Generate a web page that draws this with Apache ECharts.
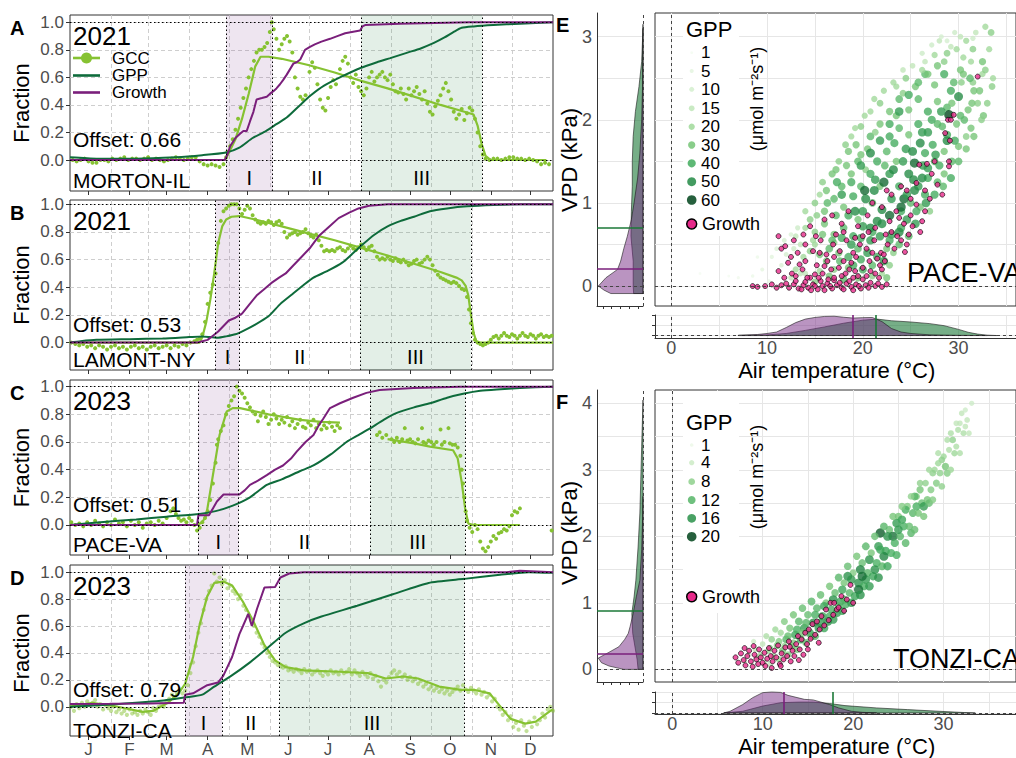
<!DOCTYPE html>
<html>
<head>
<meta charset="utf-8">
<script src="https://cdn.jsdelivr.net/npm/echarts@6/dist/echarts.min.js"></script>
<style>
html,body{margin:0;padding:0;background:#fff;}
#chart{width:1016px;height:758px;}
</style>
</head>
<body>
<div id="chart"></div>
<script>
// ---------- time-series panels (A-D): day of year 0..365 ----------
const MONTH_STARTS = [31, 59, 90, 120, 151, 181, 212, 243, 273, 304, 334];
const MONTH_MIDS = [14, 45, 73, 104, 134, 165, 195, 226, 257, 287, 318, 348];
const MONTH_LETTERS = ['J', 'F', 'M', 'A', 'M', 'J', 'J', 'A', 'S', 'O', 'N', 'D'];
const FRACTION_TICKS = [0, 0.2, 0.4, 0.6, 0.8, 1.0];

const SITES = ['MORTON-IL', 'LAMONT-NY', 'PACE-VA', 'TONZI-CA'];
const YEARS = ['2021', '2021', '2023', '2023'];
const OFFSETS = ['0.66', '0.53', '0.51', '0.79'];
const PANEL_LETTERS = ['A', 'B', 'C', 'D'];
const STAGE_NAMES = ['I', 'II', 'III'];
// stage boundaries (day of year): start I, end I, start III, end III
const STAGES_A = [117.9, 153.2, 220.0, 311.4];
const STAGES_B = [109.9, 128.2, 219.2, 302.9];
const STAGES_C = [96.7, 127.5, 226.8, 298.6];
const STAGES_D = [86.9, 114.9, 158.4, 298.0];
const YMIN = [-0.225, -0.198, -0.217, -0.217];
const YMAX = [1.053, 1.031, 1.048, 1.053];

// MORTON-IL 2021
const GCC_PTS_A = [[2,0.0],[5,-0.01],[8,0.0],[11,0.01],[14,-0.01],[17,-0.02],[20,-0.02],[23,0.0],[26,0.0],[29,-0.01],[32,0.01],[35,0.0],[38,0.01],[41,0.02],[44,0.0],[47,0.01],[50,0.01],[53,0.0],[56,0.01],[59,0.02],[62,0.0],[65,0.01],[68,0.0],[71,-0.01],[74,0.0],[77,0.01],[80,0.02],[83,0.01],[86,0.0],[89,0.01],[92,0.02],[95,0.02],[98,-0.01],[101,-0.03],[104,-0.04],[107,-0.03],[110,-0.04],[113,-0.05],[116,-0.03],[118,0.02],[119,0.06],[121,0.1],[123,0.15],[125,0.22],[127,0.3],[129,0.38],[131,0.45],[133,0.52],[135,0.6],[137,0.66],[139,0.72],[141,0.78],[143,0.8],[145,0.8],[147,0.82],[149,0.85],[151,0.93],[152.5,1.0],[154,0.95],[156,0.88],[158,0.8],[160,0.84],[162,0.88],[164,0.9],[166,0.86],[168,0.78],[170,0.6],[172,0.52],[174,0.46],[176,0.44],[178,0.47],[181,0.64],[183,0.71],[185,0.67],[187,0.55],[189,0.44],[191,0.38],[193,0.36],[195,0.45],[197,0.53],[199,0.58],[201,0.55],[204,0.66],[206,0.72],[208,0.75],[210,0.7],[212,0.6],[214,0.56],[216,0.62],[218,0.53],[220,0.5],[222,0.47],[224,0.52],[226,0.6],[228,0.64],[230,0.57],[232,0.6],[234,0.62],[236,0.64],[238,0.6],[240,0.58],[242,0.62],[244,0.55],[246,0.5],[248,0.49],[250,0.52],[252,0.48],[254,0.44],[256,0.52],[258,0.47],[260,0.5],[262,0.53],[264,0.48],[266,0.44],[268,0.5],[270,0.41],[272,0.35],[274,0.33],[276,0.39],[278,0.43],[280,0.47],[282,0.52],[284,0.56],[286,0.5],[288,0.44],[290,0.35],[292,0.3],[294,0.33],[296,0.37],[298,0.29],[300,0.34],[302,0.38],[304,0.36],[306,0.3],[308,0.2],[310,0.1],[312,0.04],[314,0.01],[317,0.0],[320,0.01],[323,0.01],[326,0.0],[329,0.01],[332,0.02],[335,0.02],[338,0.01],[341,0.01],[344,0.0],[347,0.01],[350,0.0],[353,-0.01],[356,-0.03],[359,-0.02],[362,-0.03]];
const GCC_FIT_A = [[0,0.0],[110,0.0],[117,0.0],[120,0.05],[125,0.15],[130,0.3],[135,0.48],[140,0.68],[144,0.75],[150,0.75],[160,0.735],[180,0.69],[200,0.635],[220,0.575],[240,0.52],[260,0.46],[280,0.4],[300,0.345],[305,0.33],[308,0.25],[311,0.12],[314,0.03],[318,0.0],[360,0.0]];
const GPP_A = [[0,0.02],[20,0.01],[50,0.01],[80,0.02],[100,0.035],[118,0.055],[128,0.09],[138,0.16],[148,0.21],[156,0.26],[164,0.31],[174,0.4],[182,0.47],[192,0.54],[204,0.6],[220,0.67],[232,0.71],[242,0.74],[255,0.78],[265,0.81],[275,0.85],[283,0.89],[290,0.93],[296,0.96],[305,0.97],[320,0.98],[340,0.99],[365,1.0]];
const GROWTH_A = [[0,0],[117,0],[119,0.04],[121,0.1],[125,0.16],[128.5,0.19],[131,0.21],[133.5,0.21],[136,0.28],[138.6,0.35],[141,0.44],[145,0.45],[148.7,0.46],[151,0.48],[153.7,0.5],[156,0.52],[158.7,0.55],[161,0.58],[163.8,0.62],[166.3,0.66],[168.8,0.7],[171.3,0.71],[174,0.73],[177.6,0.8],[181,0.82],[185,0.84],[190,0.86],[196.5,0.88],[202,0.9],[207.9,0.92],[213,0.93],[219.2,0.94],[221,0.97],[223,0.98],[249,0.99],[302,1.0],[365,1.0]];

// LAMONT-NY 2021
const GCC_PTS_B = [[1,0.0],[4,-0.01],[7,-0.02],[10,-0.01],[13,-0.03],[16,-0.02],[19,-0.04],[22,-0.02],[25,-0.03],[28,-0.05],[31,-0.03],[34,-0.02],[37,-0.04],[40,-0.03],[43,-0.05],[46,-0.03],[49,-0.02],[52,-0.04],[55,-0.03],[58,-0.05],[61,-0.03],[64,-0.02],[67,-0.04],[70,-0.03],[73,-0.02],[76,-0.04],[79,-0.02],[82,-0.03],[85,-0.01],[88,-0.02],[91,0.0],[94,0.01],[96,0.02],[98,0.03],[100,0.06],[102,0.15],[104,0.28],[106,0.36],[108,0.42],[110,0.5],[112,0.72],[114,0.88],[116,0.95],[118,0.97],[120,0.99],[122,1.0],[124,1.0],[126,1.0],[128,0.97],[130,0.93],[132,0.96],[134,0.99],[136,0.97],[138,0.92],[140,0.89],[142,0.87],[144,0.86],[146,0.87],[148,0.86],[150,0.88],[152,0.87],[154,0.85],[156,0.87],[158,0.88],[160,0.86],[162,0.8],[164,0.76],[166,0.78],[168,0.79],[170,0.8],[172,0.78],[174,0.79],[176,0.8],[178,0.82],[180,0.79],[182,0.77],[184,0.76],[186,0.78],[188,0.74],[190,0.7],[192,0.66],[194,0.67],[196,0.66],[198,0.67],[200,0.66],[202,0.68],[204,0.69],[206,0.67],[208,0.66],[210,0.68],[212,0.7],[214,0.68],[216,0.67],[218,0.69],[220,0.71],[222,0.69],[224,0.67],[226,0.69],[228,0.7],[230,0.66],[232,0.62],[234,0.6],[236,0.61],[238,0.6],[240,0.62],[242,0.6],[244,0.59],[246,0.61],[248,0.59],[250,0.58],[252,0.6],[254,0.58],[256,0.56],[258,0.57],[260,0.59],[262,0.6],[264,0.57],[266,0.58],[268,0.6],[270,0.62],[272,0.6],[274,0.56],[276,0.52],[278,0.49],[280,0.47],[282,0.46],[284,0.45],[286,0.44],[288,0.43],[290,0.44],[292,0.43],[294,0.41],[296,0.39],[298,0.38],[300,0.33],[301.5,0.24],[303,0.14],[304.5,0.07],[306,0.02],[308,0.0],[310,-0.01],[312,-0.02],[314,-0.01],[316,0.0],[318,0.02],[320,0.04],[322,0.05],[324,0.03],[326,0.05],[328,0.07],[330,0.05],[332,0.04],[334,0.06],[336,0.05],[338,0.03],[340,0.05],[342,0.07],[344,0.05],[346,0.04],[348,0.06],[350,0.05],[352,0.03],[354,0.05],[356,0.06],[358,0.04],[360,0.05],[362,0.04],[364,0.05]];
const GCC_FIT_B = [[0,0.0],[98,0.0],[100,0.04],[103,0.15],[106,0.31],[109,0.5],[112,0.72],[115,0.84],[118,0.89],[122,0.91],[128,0.915],[140,0.89],[160,0.84],[180,0.79],[200,0.74],[220,0.685],[240,0.63],[260,0.57],[280,0.51],[292,0.47],[296,0.45],[299,0.41],[301,0.34],[303,0.2],[305,0.07],[307,0.01],[310,0.0],[365,0.0]];
const GPP_B = [[0,0.0],[8,0.01],[20,0.02],[45,0.025],[70,0.03],[90,0.04],[100,0.045],[106,0.04],[112,0.035],[118,0.045],[125,0.06],[131,0.085],[140,0.13],[150,0.19],[159,0.28],[168,0.35],[177,0.42],[184,0.47],[195,0.52],[206,0.58],[212,0.63],[220,0.7],[230,0.78],[240,0.84],[250,0.88],[260,0.91],[272,0.95],[285,0.97],[300,0.985],[320,0.995],[340,1.0],[365,1.0]];
const GROWTH_B = [[0,0],[96,0],[100,0.01],[104,0.02],[108,0.05],[112,0.08],[116,0.12],[120,0.16],[125,0.18],[130,0.21],[135,0.27],[141,0.34],[146,0.38],[152,0.43],[158,0.47],[163,0.5],[168,0.55],[174,0.61],[181,0.68],[188,0.77],[196,0.84],[203,0.9],[211,0.94],[218,0.97],[226,0.99],[240,1.0],[365,1.0]];

// PACE-VA 2023
const GCC_PTS_C = [[1,0.02],[4,0.0],[7,0.01],[10,-0.01],[13,0.02],[16,0.0],[19,0.03],[22,0.01],[25,-0.01],[28,0.02],[31,0.0],[34,0.04],[37,0.01],[40,0.02],[43,-0.01],[46,0.03],[49,0.0],[52,0.02],[55,-0.02],[58,0.01],[61,0.02],[64,0.0],[67,0.03],[70,0.01],[73,0.05],[76,0.1],[78,0.12],[80,0.08],[82,0.05],[84,0.03],[86,0.04],[88,0.02],[90,0.05],[92,0.03],[94,0.0],[96,-0.04],[98,-0.02],[100,0.02],[102,0.05],[104,0.1],[106,0.18],[108,0.3],[110,0.45],[111,0.58],[112,0.62],[114,0.68],[116,0.72],[118,0.8],[120,0.86],[122,0.9],[124,0.93],[126,1.0],[128,0.97],[130,0.95],[132,0.92],[134,0.88],[136,0.85],[138,0.82],[140,0.8],[142,0.75],[144,0.79],[146,0.82],[148,0.78],[150,0.73],[152,0.76],[154,0.8],[156,0.77],[158,0.73],[160,0.76],[162,0.74],[164,0.78],[166,0.72],[168,0.75],[170,0.7],[172,0.73],[174,0.76],[176,0.71],[178,0.7],[180,0.74],[182,0.72],[184,0.76],[186,0.7],[188,0.73],[190,0.69],[192,0.72],[194,0.7],[196,0.74],[198,0.71],[200,0.68],[202,0.72],[204,0.7],[232,0.65],[234,0.67],[236,0.63],[239,0.65],[243,0.62],[245,0.6],[247,0.63],[249,0.6],[251,0.62],[253,0.7],[255,0.61],[257,0.62],[259,0.6],[261,0.59],[263,0.62],[266,0.7],[267,0.6],[269,0.59],[271,0.61],[273,0.6],[275,0.58],[277,0.6],[280,0.69],[281,0.58],[283,0.6],[286,0.7],[287,0.59],[289,0.58],[291,0.58],[293,0.56],[295,0.5],[296,0.4],[297,0.3],[298,0.2],[299,0.1],[300,0.03],[302,-0.02],[304,-0.05],[306,0.0],[308,-0.03],[310,-0.12],[312,-0.17],[314,-0.19],[316,-0.16],[318,-0.12],[320,-0.08],[322,-0.1],[324,-0.06],[326,-0.05],[328,-0.03],[330,-0.04],[332,-0.01],[334,0.07],[336,0.1],[338,0.09],[340,0.12],[364,-0.04]];
const GCC_FIT_C = [[0,0.0],[96,0.0],[100,0.02],[103,0.07],[108,0.36],[113,0.65],[118.4,0.82],[123,0.845],[128.5,0.845],[150,0.8],[174,0.76],[190,0.745],[204,0.74],[205,null],[240,0.62],[260,0.59],[272,0.566],[289.5,0.54],[293,0.48],[296,0.31],[298.6,0.12],[301,0.01],[305,0.0],[340,0.0]];
const GPP_C = [[0,0.0],[23,0.02],[50,0.04],[73,0.06],[98,0.08],[110,0.1],[123,0.14],[136,0.2],[148.7,0.29],[160,0.33],[174,0.39],[184,0.43],[197,0.51],[209,0.6],[218,0.65],[227,0.7],[237,0.76],[247,0.81],[260,0.85],[272,0.88],[285,0.92],[298,0.95],[310,0.97],[322.5,0.98],[340,0.99],[365,1.0]];
const GROWTH_C = [[0,0],[96,0],[97,0.07],[105,0.07],[108,0.12],[111,0.17],[114,0.2],[116,0.22],[128,0.22],[132,0.25],[136,0.29],[142,0.32],[148.7,0.36],[155,0.4],[161,0.43],[167,0.48],[171.3,0.53],[178,0.6],[184,0.65],[188,0.72],[191.5,0.77],[196.5,0.845],[204,0.88],[214,0.92],[224,0.955],[234,0.976],[259.5,0.99],[295,1.0],[365,1.0]];

// TONZI-CA 2023
const GCC_PTS_D = [[1,0.0],[3,-0.03],[5,0.02],[7,-0.01],[9,0.03],[11,0.0],[13,0.04],[15,0.01],[17,0.03],[19,0.05],[21,0.0],[23,0.02],[25,-0.02],[27,0.01],[29,-0.01],[31,-0.03],[33,0.0],[35,-0.04],[37,-0.02],[39,-0.05],[41,-0.03],[43,-0.06],[45,-0.02],[47,-0.05],[49,-0.04],[51,-0.06],[53,-0.03],[55,-0.05],[57,-0.02],[59,-0.04],[61,-0.06],[63,-0.01],[65,-0.03],[67,0.0],[69,0.02],[71,0.0],[73,0.04],[75,0.06],[77,0.09],[79,0.07],[81,0.1],[83,0.13],[85,0.1],[87,0.12],[89,0.16],[91,0.25],[93,0.33],[95,0.45],[97,0.55],[99,0.62],[101,0.72],[103,0.8],[105,0.86],[107,0.9],[109,0.99],[111,0.93],[113,0.96],[115,0.91],[117,0.94],[119,0.88],[121,0.9],[123,0.86],[125,0.84],[127,0.8],[129,0.83],[131,0.75],[133,0.72],[135,0.68],[137,0.64],[139,0.6],[141,0.55],[143,0.52],[145,0.47],[147,0.44],[149,0.4],[151,0.37],[153,0.34],[155,0.33],[157,0.31],[159,0.3],[161,0.29],[163,0.3],[165,0.27],[167,0.28],[169,0.26],[171,0.28],[173,0.27],[175,0.25],[177,0.28],[179,0.26],[181,0.27],[183,0.24],[185,0.26],[187,0.27],[189,0.25],[191,0.23],[193,0.26],[195,0.24],[197,0.27],[199,0.25],[201,0.26],[203,0.24],[205,0.27],[207,0.25],[209,0.26],[211,0.28],[213,0.24],[215,0.27],[217,0.25],[219,0.23],[221,0.26],[223,0.24],[225,0.22],[227,0.25],[229,0.21],[231,0.23],[233,0.19],[235,0.15],[237,0.2],[239,0.18],[241,0.22],[243,0.25],[245,0.27],[247,0.24],[249,0.26],[251,0.22],[253,0.24],[255,0.2],[257,0.22],[259,0.19],[261,0.21],[263,0.17],[265,0.19],[267,0.15],[269,0.17],[271,0.13],[273,0.15],[275,0.12],[277,0.14],[279,0.11],[281,0.13],[283,0.1],[285,0.12],[287,0.09],[289,0.11],[291,0.13],[293,0.15],[295,0.12],[297,0.16],[299,0.13],[301,0.11],[303,0.14],[305,0.12],[307,0.1],[309,0.13],[311,0.09],[313,0.11],[315,0.07],[317,0.09],[319,0.04],[321,0.06],[323,0.0],[325,-0.02],[327,-0.06],[329,-0.04],[331,-0.1],[333,-0.07],[335,-0.15],[337,-0.12],[339,-0.17],[341,-0.1],[343,-0.14],[345,-0.18],[347,-0.11],[349,-0.15],[351,-0.08],[353,-0.13],[355,-0.1],[357,-0.05],[359,-0.08],[361,-0.02],[363,0.0],[365,-0.03]];
const GCC_FIT_D = [[0,0.0],[2,0.005],[17,0.03],[36,0.0],[55,-0.038],[63,-0.03],[74,0.03],[82,0.1],[87,0.17],[93,0.37],[98,0.61],[103.7,0.82],[109,0.92],[115.8,0.93],[122.6,0.9],[130.7,0.78],[138.8,0.63],[146.8,0.46],[155,0.345],[163,0.295],[176.6,0.27],[203.6,0.26],[225,0.25],[238.6,0.21],[252,0.225],[263,0.21],[279,0.15],[295.3,0.125],[306,0.125],[317,0.1],[325,0.005],[333,-0.09],[344,-0.125],[352,-0.11],[363,-0.03],[365,-0.02]];
const GPP_D = [[0,0.0],[28,0.015],[68.6,0.045],[87,0.07],[100,0.09],[109,0.15],[122.6,0.235],[136,0.33],[149.6,0.44],[163,0.55],[176.6,0.62],[190,0.67],[217,0.75],[244,0.836],[271,0.92],[298,0.95],[325,0.98],[346.6,1.0],[365,0.995]];
const GROWTH_D = [[0,0.02],[30,0.022],[60,0.025],[86,0.03],[87,0.09],[93,0.1],[103.7,0.16],[111.8,0.18],[115.8,0.23],[122.5,0.37],[128,0.54],[130.7,0.6],[134.7,0.69],[137.4,0.6],[141.4,0.73],[146.9,0.885],[155,0.89],[159,0.96],[165.7,0.99],[176.6,1.0],[330,1.0],[340,1.01],[365,1.0]];

// ---------- climate-space panels (E: PACE-VA, F: TONZI-CA) ----------
// [air temperature (°C), VPD (kPa), GPP (µmol m-2 s-1)]
const GPP_POINTS_E = [[3,0.15,1],[6,0.12,1],[7,0.1,2],[8.5,0.12,3],[9,0.35,3],[9.5,0.2,5],[10.2,0.06,4],[10.5,0.35,6],[11,0.45,8],[11.8,0.55,10],[12,0.38,10],[12.5,0.62,8],[13.2,0.7,12],[13.5,0.5,15],
[12.5,0.1,15],[13,0.2,20],[14,0.15,15],[15,0.05,25],[15.5,0.18,20],[16.5,0.12,30],[17,0.2,25],[18,0.08,35],[18.5,0.22,30],[19.5,0.1,30],[20,0.2,40],[21,0.12,25],[22,0.15,20],[22.8,0.25,25],
[13.8,0.35,20],[14.5,0.42,25],[15,0.5,20],[15.5,0.38,30],[16.5,0.45,35],[17,0.52,25],[17.5,0.4,30],[18.5,0.35,40],[19.5,0.45,35],[20.5,0.4,45],[21.5,0.35,40],[22.5,0.45,30],[23.2,0.4,25],[23.8,0.5,35],
[13,0.6,15],[14,0.7,20],[14.5,0.8,25],[15,0.65,25],[16,0.75,30],[17,0.62,30],[18,0.7,35],[19,0.6,40],[19.5,0.8,30],[20,0.72,45],[21,0.65,40],[22,0.75,50],[23,0.62,45],[24,0.7,40],[24.8,0.6,35],[25.5,0.75,45],
[14,0.9,20],[15,1.0,25],[15.5,1.1,20],[16,0.9,30],[17,1.05,35],[18,0.95,30],[18.5,0.85,40],[19,1.08,40],[20,0.9,45],[21,1.0,35],[22,0.92,50],[23,1.05,45],[24,0.9,40],[25,1.0,35],[26,0.95,30],[26.5,1.1,40],[27,0.9,25],
[15.8,1.25,25],[16.8,1.35,30],[17.8,1.2,35],[18.8,1.35,30],[19.8,1.2,35],[20.3,1.4,25],[20.8,1.35,40],[21.8,1.2,30],[22.8,1.35,45],[23.8,1.2,40],[24.8,1.35,50],[25.8,1.2,45],[26.8,1.3,40],[27.8,1.25,35],[28.5,1.35,30],
[17.5,1.5,25],[18.5,1.62,30],[19.5,1.5,35],[20.5,1.65,30],[21.5,1.5,40],[22.5,1.62,35],[23.5,1.5,30],[24.5,1.65,45],[25.4,1.48,55],[26,1.72,50],[26.5,1.6,40],[27.5,1.5,35],[28.5,1.62,30],[29.3,1.5,35],[30,1.68,30],
[18.8,1.8,20],[19.8,1.92,25],[20.8,1.8,35],[21.8,1.95,30],[22.8,1.8,40],[23.8,1.9,35],[24.8,1.82,30],[25.8,1.95,40],[26.8,1.85,45],[27.8,1.95,35],[28.8,1.82,40],[29.8,1.95,30],[30.8,1.8,25],[31.3,1.9,30],
[20.8,2.1,20],[21.8,2.2,25],[22.8,2.1,30],[23.8,2.25,35],[24.8,2.12,30],[25.8,2.25,35],[26.8,2.1,40],[27.8,2.22,30],[28.8,2.15,35],[29,2.06,60],[30,2.28,50],[31,2.12,30],[32,2.2,25],[32.6,2.05,30],
[23.5,2.4,20],[24.5,2.5,25],[25.5,2.4,30],[26.5,2.55,35],[27.5,2.42,30],[28.5,2.55,40],[29.5,2.45,35],[30.5,2.55,30],[31.5,2.45,25],[32.5,2.55,20],[33.5,2.4,25],
[26.5,2.7,15],[27.5,2.78,20],[28.5,2.7,25],[29.2,2.88,15],[30.5,2.75,20],[31.5,2.85,25],[32.5,2.7,30],[33.2,2.85,20],
[28.8,2.95,10],[29.6,3.05,12],[30.2,3.0,15],[31.5,2.98,12],[32.8,3.12,20],[33.4,3.05,25],
[16.3,1.0,35],[17.3,1.25,40],[18.3,1.45,30],[19.3,1.7,30],[20.3,1.05,50],[21.3,1.28,45],[22.3,1.45,35],[23.3,1.72,40],[24.3,1.05,55],[25.3,1.28,50],[26.3,1.45,45],[27.3,1.7,40],[28.3,1.92,35],[29.3,2.2,30],[30.3,2.45,25],[31.3,2.7,20],[19,0.25,40],[20.8,0.55,45],[22.8,0.85,55],[24.6,1.1,45],[26.2,1.3,50],[27.6,1.58,45],[28.8,1.75,50],[30.2,2.05,35],[31.6,2.35,30],[23.5,2.05,30],[21.3,1.85,25],[19.8,1.58,30],[24.2,2.32,25],[26.2,2.6,20],[28,2.95,15],[22.2,0.3,45],[17.2,0.85,35],[21.5,0.78,50],
[14.8,0.55,20],[15.8,0.62,30],[16.8,0.55,35],[17.8,0.58,40],[18.8,0.5,45],[19.8,0.58,40],[20.8,0.7,50],[21.8,0.6,45],[22.8,0.55,40],[23.8,0.65,50],[24.6,0.8,45],[25.6,0.9,40],[26.6,1.0,45],[27.5,1.1,40],[28.4,1.2,35],[29.2,1.3,40],[30,1.5,35],[30.8,1.65,30],[31.6,1.8,30],[32.4,2.0,25],[33,2.2,25],[33.6,2.5,20],
[15.2,0.85,25],[16.2,1.15,30],[17.2,1.4,30],[18.2,1.7,25],[19.2,1.9,20],[20.2,2.05,20],[21.2,2.25,20],[22.2,2.35,20],[23.2,2.45,20],[24.2,2.6,15],[25.2,2.65,15],[26.2,2.8,12],[27.2,2.9,12],[28.2,3.0,10],
[17.8,1.1,45],[18.8,1.25,40],[19.8,1.45,45],[20.8,1.6,50],[21.8,1.75,45],[22.8,1.95,40],[23.8,2.1,45],[24.8,2.3,40],[25.8,2.45,35],[26.8,2.55,30],[27.8,2.65,30],[28.8,2.8,25],[29.8,2.85,20],[30.8,2.95,20],[31.8,3.05,15],
[19.2,0.9,50],[20.2,1.15,55],[21.2,1.15,50],[22.2,1.25,55],[23.2,1.4,50],[24.2,1.5,45],[25.2,1.62,50],[26.2,1.85,45],[27.2,2.0,40],[28.2,2.1,45],[29.2,2.35,40],[30.2,2.6,30],[31.2,2.5,35],[32.2,2.35,30],[32.8,2.6,25],
[16.2,0.3,30],[17.6,0.3,35],[19.8,0.32,40],[21,0.25,35],[22.5,0.1,30],[13.5,0.15,15],[11.5,0.25,8],[12.8,0.45,12],
[24,0.95,55],[25.4,1.15,50],[26.8,1.42,45],[28,1.45,40],[29.6,1.75,40],[30.6,2.0,35],[31.4,2.2,30]];
// [air temperature (°C), VPD (kPa)] on growth days
const GROWTH_POINTS_E = [[8.5,0.0],[9.0,-0.01],[9.8,0.0],[11.5,0.01],[12.3,-0.02],[12.8,0.02],[13.3,-0.03],[13.8,0.01],[14.3,-0.02],[14.8,0.02],[15.3,-0.04],[15.8,0.0],[16.3,0.03],[16.8,-0.03],[17.3,0.01],[17.8,-0.02],[18.3,0.03],[18.8,-0.01],[19.3,0.02],[19.8,-0.03],[20.3,0.01],[20.8,0.04],[21.3,0.0],[22.5,0.02],[14.0,0.05],[15.6,0.06],[17.0,0.07],[18.6,0.06],[20.0,0.08],[16.0,-0.05],[19.0,-0.05],[13.0,0.06],
[11.2,0.18],[12.2,0.28],[13,0.12],[13.7,0.2],[14.5,0.1],[15.2,0.25],[15.8,0.15],[16.3,0.3],[17,0.1],[17.5,0.22],[18.2,0.15],[18.8,0.28],[19.5,0.12],[20,0.22],[20.7,0.3],[21.3,0.15],[21.8,0.25],[22.3,0.3],[16.7,0.2],[14,0.3],[19.2,0.18],[20.4,0.12],[21.7,0.1],[18,0.3],[15,0.14],
[11.5,0.45],[11.9,0.48],[12.5,0.35],[13.2,0.4],[14,0.5],[14.8,0.42],[15.6,0.55],[16.2,0.38],[16.9,0.5],[17.6,0.42],[18.3,0.55],[19,0.4],[19.7,0.5],[20.4,0.45],[21.2,0.55],[21.9,0.4],[22.6,0.5],[23.3,0.45],[24,0.55],[20,0.6],[18,0.65],[17.2,0.62],[15.1,0.6],[19.3,0.35],[21.5,0.33],[24.4,0.41],
[14.5,0.72],[16,0.8],[17.8,0.75],[18.5,0.9],[19.5,0.72],[20.5,0.85],[21.3,0.7],[22,0.95],[22.8,0.78],[23.5,0.9],[24.3,0.75],[25,0.85],[25.6,0.98],[26.5,0.9],[21,1.0],[16.8,0.85],[24.8,0.62],[26,0.65],[23,0.65],
[23,1.1],[24,1.2],[25,1.05],[25.6,1.24],[26.5,1.15],[27.2,1.35],[27.8,1.22],[28.3,1.1],[29,1.44],[26.7,1.47],[25.9,1.46],[27.5,1.5],[24.6,1.15],[22.5,1.15],[29,1.5],
[28.6,1.84],[29.1,1.75],[28.9,2.0],[29.2,2.0],[29.5,2.06],[32,2.52],
[10.5,0.02],[11.0,-0.02],[12.0,0.03],[13.6,-0.04],[14.6,-0.05],[15.0,0.0],[16.6,0.0],[17.6,0.04],[18.0,-0.04],[19.6,0.0],[20.6,-0.02],[21.6,0.03],[22.0,-0.01],[14.2,0.1],[15.4,0.1],[16.4,0.08],[17.8,0.12],[19.0,0.1],[20.8,0.18],[22.0,0.2],[12.6,0.15],[11.8,0.1],[13.4,0.26],[16.0,0.24],[18.6,0.2],[21.0,0.4],[22.2,0.38],[23.6,0.6],[24.6,0.5],[20.6,0.65],[19.2,0.58],[17.0,0.35],[15.5,0.4],[13.8,0.62],[12.8,0.55],[11.2,0.6],[22.4,0.62],[23.8,0.82],[25.2,0.72],[26.2,0.78],[27,1.05]];

const GPP_POINTS_F = [[8.0,0.12,3],[8.4,0.22,4],[8.8,0.08,2],[9.2,0.3,5],[9.6,0.18,6],[10.0,0.38,5],[10.2,0.1,4],[10.6,0.28,7],[11.0,0.45,8],[11.2,0.2,6],[11.6,0.36,9],[12.0,0.55,7],[12.2,0.28,10],[12.6,0.45,12],[13.0,0.62,10],[13.2,0.35,11],[13.6,0.52,14],[14.0,0.72,12],[14.2,0.45,13],[14.6,0.62,15],[15.0,0.82,11],[15.2,0.55,14],[15.6,0.7,16],[16.0,0.92,12],[16.2,0.62,15],[16.6,0.8,14],[17.0,1.0,10],[17.2,0.72,16],[17.6,0.9,13],[18.0,1.15,11],[18.2,0.85,15],[18.6,1.02,14],[19.0,1.3,10],[19.2,0.98,13],[19.6,1.15,12],[20.0,1.45,9],[20.2,1.1,14],[20.6,1.3,16],[21.0,1.6,11],[21.2,1.25,13],[21.6,1.45,12],[22.0,1.75,10],[22.2,1.4,14],[22.6,1.6,13],[23.0,2.05,19],[23.2,1.55,12],[23.6,1.78,14],[24.0,2.1,11],[24.4,2.0,18],[24.6,1.9,13],[25.0,2.3,10],[25.2,2.0,12],[25.6,2.15,13],[26.0,2.45,9],[26.2,2.15,11],[26.6,2.35,12],[27.0,2.6,9],[27.2,2.35,10],[27.6,2.5,11],[27.8,2.45,15],[28.0,2.8,8],[28.2,2.55,10],[28.6,2.7,9],[29.0,3.0,7],[29.2,2.8,9],[29.6,2.95,8],[30.0,3.2,7],[30.2,3.05,10],[30.6,3.3,6],[31.0,3.45,8],[31.2,3.25,7],[31.6,3.6,6],[32.0,3.85,5],[32.2,3.55,6],[32.6,3.75,5],[33.1,4.0,4],[31.8,3.7,5],[30.8,3.55,6],[29.8,3.15,8],[28.8,2.95,8],[26.8,2.6,12],[25.8,2.4,13],[24.8,2.2,15],[23.8,2.0,16],[22.8,1.85,15],[21.8,1.65,16],[20.8,1.5,17],[19.8,1.35,15],[18.8,1.2,14],[17.8,1.05,16],[16.8,0.95,14],[15.8,0.82,13],[14.8,0.7,12],[13.8,0.6,13],[12.8,0.5,11],[11.8,0.42,9],[10.8,0.32,8],[9.8,0.22,6],[20.6,1.2,18],[19.4,1.4,16],[18.4,0.95,12],[16.4,0.7,15],[14.4,0.55,10],[22.4,1.5,16],[24.2,1.75,13],[26.4,2.05,12],[28.4,2.5,11],[30.4,2.95,9],[21.4,1.35,15],[17.4,0.8,13],[15.4,0.5,12],[13.4,0.4,9],[12.4,0.35,7],[23.4,1.7,17],[25.4,2.25,14],[27.4,2.7,10],[29.4,3.1,7],[31.4,3.35,6],[32.4,3.65,5],[19.0,1.05,12],[21.0,1.4,18],[23.0,1.8,14],[25.0,2.1,15],[27.0,2.45,13],
[9,0.42,4],[10.4,0.5,6],[11.4,0.6,7],[12.4,0.72,9],[13.4,0.82,10],[14.4,0.92,11],[15.4,1.02,12],[16.4,1.12,11],[17.4,1.25,10],[18.4,1.38,12],[19.4,1.55,11],[20.4,1.7,10],[21.4,1.85,12],[22.4,2.0,11],[23.4,2.15,12],[24.4,2.3,10],[25.4,2.45,9],[26.4,2.6,8],[27.4,2.8,8],[28.4,3.0,7],[29.4,3.25,6],[30.4,3.45,6],[31.4,3.7,5],[32.4,3.9,4],
[10.8,0.08,5],[11.8,0.15,7],[12.8,0.22,9],[13.8,0.3,10],[14.8,0.4,11],[15.8,0.5,12],[16.8,0.62,14],[17.8,0.75,15],[18.8,0.88,14],[19.8,1.0,15],[20.8,1.12,16],[21.8,1.25,15],[22.8,1.38,16],[23.8,1.55,14],[24.8,1.72,13],[25.8,1.9,12],[26.8,2.1,11],[27.8,2.3,10],[28.8,2.55,9],[29.8,2.75,8],[30.8,3.0,7],[31.8,3.25,6],[32.8,3.55,5]];
const GROWTH_POINTS_F = [[7.0,0.18],[7.3,0.1],[7.6,0.24],[7.9,0.14],[8.1,0.06],[8.3,0.2],[8.5,0.28],[8.7,0.12],[8.9,0.04],[9.1,0.22],[9.3,0.15],[9.5,0.08],[9.6,0.3],[9.8,0.18],[10.0,0.1],[10.2,0.25],[10.3,0.05],[10.5,0.16],[10.7,0.32],[10.9,0.2],[11.1,0.12],[11.3,0.28],[11.5,0.18],[11.7,0.36],[11.9,0.08],[12.1,0.24],[12.3,0.15],[12.5,0.33],[12.7,0.2],[12.9,0.42],[13.1,0.12],[13.3,0.28],[13.5,0.2],[13.7,0.38],[13.9,0.5],[14.1,0.3],[14.3,0.45],[14.5,0.22],[14.7,0.55],[14.9,0.38],[15.1,0.6],[15.3,0.46],[15.5,0.68],[15.8,0.52],[16.0,0.72],[16.3,0.6],[16.5,0.8],[16.8,0.66],[17.0,0.9],[17.3,0.74],[17.5,1.0],[17.8,0.82],[17.9,1.0],[18.2,0.9],[18.4,0.93],[18.7,1.1],[19.0,0.88],[19.3,1.05],[19.7,1.27],[20.0,1.0],[12.0,0.05],[11.0,0.02],[13.0,0.34],[14.0,0.14],[15.0,0.3],[16.2,0.4],[9.0,0.35],[8.0,0.32]];

// marginal densities: [level, relative density]
const E_VPD_DENS_GROWTH = [[-0.09,0.72],[-0.05,0.87],[0,1.0],[0.1,0.83],[0.2,0.57],[0.3,0.5],[0.45,0.43],[0.6,0.35],[0.8,0.26],[1.0,0.2],[1.3,0.12],[1.6,0.07],[2.0,0.03],[2.4,0.01],[2.8,0.004],[3.1,0]];
const E_VPD_DENS_GPP = [[-0.09,0.21],[0,0.22],[0.3,0.22],[0.6,0.27],[0.9,0.26],[1.2,0.24],[1.5,0.24],[1.8,0.22],[2.1,0.17],[2.4,0.09],[2.7,0.03],[3.0,0.008],[3.15,0]];
const E_TEMP_DENS_GROWTH = [[7,0.015],[9,0.05],[10,0.1],[11,0.17],[12,0.39],[13,0.63],[14,0.8],[15,0.88],[16,0.93],[17,0.94],[18,0.89],[19,0.85],[20,0.87],[21,0.88],[22,0.68],[23,0.34],[24,0.17],[25,0.1],[27,0.034],[30,0.01],[33,0]];
const E_TEMP_DENS_GPP = [[7,0.005],[10,0.03],[12,0.1],[14,0.25],[16,0.42],[18,0.6],[20,0.75],[21.5,0.8],[23,0.72],[25,0.66],[27,0.58],[28.5,0.48],[30,0.3],[31,0.16],[32,0.07],[33,0.02],[34,0]];
const F_VPD_DENS_GROWTH = [[0,0.43],[0.05,0.76],[0.1,0.93],[0.17,1.0],[0.25,0.78],[0.34,0.54],[0.45,0.41],[0.54,0.33],[0.64,0.29],[0.84,0.22],[1.09,0.15],[1.34,0.07],[1.8,0.03],[2.3,0.007],[2.6,0]];
const F_VPD_DENS_GPP = [[0,0.11],[0.14,0.13],[0.54,0.23],[0.84,0.25],[1.09,0.2],[1.34,0.16],[1.84,0.11],[2.35,0.07],[2.85,0.05],[3.35,0.03],[4.05,0]];
const F_TEMP_DENS_GROWTH = [[5.7,0],[6.4,0.08],[7.8,0.4],[8.9,0.73],[10,0.97],[11,1.0],[12,0.98],[12.8,0.84],[14.6,0.65],[15.6,0.62],[17.4,0.4],[18.4,0.24],[19.8,0.08],[21,0.03],[22.6,0]];
const F_TEMP_DENS_GPP = [[5.7,0],[7.8,0.08],[10,0.33],[12,0.49],[14.1,0.52],[15.6,0.52],[17.4,0.45],[19.1,0.35],[22.6,0.24],[26,0.16],[29.5,0.08],[32.3,0.02],[33.5,0]];
// medians: [growth, GPP]
const E_MEDIAN_VPD = [0.21, 0.70];
const E_MEDIAN_TEMP = [18.9, 21.4];
const F_MEDIAN_VPD = [0.23, 0.88];
const F_MEDIAN_TEMP = [12.3, 17.7];
const E_GPP_LEGEND = [1, 5, 10, 15, 20, 30, 40, 50, 60];
const F_GPP_LEGEND = [1, 4, 8, 12, 16, 20];

// ---------- styling ----------
const FONT = '"Liberation Sans", Arial, Helvetica, sans-serif';
const C_GCC = '#86c232';
const C_GPP = '#0e6b3b';
const C_GROWTH = '#7a1f7b';
const C_PINK = '#e7298a';
const TICK_GRAY = '#4d4d4d';
const GREENS = [[0, '#f7fcf5'], [0.08, '#e5f5e0'], [0.17, '#d3eecd'], [0.25, '#c0e6b9'], [0.33, '#a1d99b'], [0.5, '#74c476'], [0.67, '#41ab5d'], [0.83, '#238b45'], [1, '#00441b']];

function hexToRgb(h) { return [1, 3, 5].map(i => parseInt(h.slice(i, i + 2), 16)); }
function greenFor(g, gmax) {
  const t = Math.max(0, Math.min(1, g / gmax));
  for (let i = 1; i < GREENS.length; i++) {
    if (t <= GREENS[i][0]) {
      const [t0, c0] = GREENS[i - 1], [t1, c1] = GREENS[i];
      const f = (t - t0) / (t1 - t0);
      const a = hexToRgb(c0), b = hexToRgb(c1);
      return 'rgb(' + a.map((v, k) => Math.round(v + (b[k] - v) * f)).join(',') + ')';
    }
  }
  return GREENS[GREENS.length - 1][1];
}
function sizeFor(g, gmax) { return 1.8 + 7.8 * Math.sqrt(g / gmax); }

const chart = echarts.init(document.getElementById('chart'), null, { renderer: 'svg', width: 1016, height: 758 });

const grids = [], xAxes = [], yAxes = [], series = [], graphics = [];

// ---------- panels A-D ----------
const LEFT_X = 70, LEFT_W = 483;
const PANEL_TOPS = [15, 200, 380, 565];
const PANEL_HEIGHTS = [176, 170, 175, 176];
const panelData = [
  { stages: STAGES_A, pts: GCC_PTS_A, fit: GCC_FIT_A, gpp: GPP_A, growth: GROWTH_A },
  { stages: STAGES_B, pts: GCC_PTS_B, fit: GCC_FIT_B, gpp: GPP_B, growth: GROWTH_B },
  { stages: STAGES_C, pts: GCC_PTS_C, fit: GCC_FIT_C, gpp: GPP_C, growth: GROWTH_C },
  { stages: STAGES_D, pts: GCC_PTS_D, fit: GCC_FIT_D, gpp: GPP_D, growth: GROWTH_D }
];

panelData.forEach((p, i) => {
  const top = PANEL_TOPS[i], h = PANEL_HEIGHTS[i];
  const gi = grids.length;
  grids.push({ left: LEFT_X, top: top, width: LEFT_W, height: h, show: true, backgroundColor: '#fff', borderColor: '#333', borderWidth: 1, containLabel: false });
  const xMain = xAxes.length;
  xAxes.push({
    gridIndex: gi, type: 'value', min: 0, max: 365,
    axisLine: { show: false, onZero: false },
    axisTick: { show: false, customValues: MONTH_STARTS },
    axisLabel: { show: false },
    splitLine: { show: true, lineStyle: { color: '#c8c8c8', type: [4, 3], width: 0.9 } }
  });
  xAxes.push({
    gridIndex: gi, type: 'value', min: 0, max: 365, position: 'bottom',
    axisLine: { show: false, onZero: false },
    axisTick: { show: true, customValues: MONTH_MIDS, length: 4, lineStyle: { color: '#333', width: 1 } },
    axisLabel: {
      show: i === 3, customValues: MONTH_MIDS, margin: 5,
      formatter: v => MONTH_LETTERS[MONTH_MIDS.indexOf(v)],
      color: TICK_GRAY, fontSize: 17, fontFamily: FONT
    },
    splitLine: { show: false }
  });
  const yi = yAxes.length;
  yAxes.push({
    gridIndex: gi, type: 'value', min: YMIN[i], max: YMAX[i],
    axisLine: { show: false, onZero: false },
    axisTick: { show: true, customValues: FRACTION_TICKS, length: 4, lineStyle: { color: '#333' } },
    axisLabel: { customValues: FRACTION_TICKS, formatter: v => v.toFixed(1), color: TICK_GRAY, fontSize: 17, fontFamily: FONT, margin: 6 },
    splitLine: { show: true, lineStyle: { color: '#c8c8c8', type: [4, 3], width: 0.9 } }
  });

  const s = p.stages;
  const stageLabel = { show: true, position: 'insideBottom', distance: 3, color: '#000', fontSize: 20, fontFamily: FONT };
  // stage shading, stage boundaries and reference lines
  series.push({
    type: 'line', xAxisIndex: xMain, yAxisIndex: yi, data: [], z: 1, silent: true,
    markArea: {
      silent: true, label: stageLabel,
      data: [
        [{ name: STAGE_NAMES[0], xAxis: s[0], itemStyle: { color: 'rgba(118,42,131,0.12)' } }, { xAxis: s[1] }],
        [{ name: STAGE_NAMES[1], xAxis: s[1], itemStyle: { color: 'rgba(0,0,0,0)' } }, { xAxis: s[2] }],
        [{ name: STAGE_NAMES[2], xAxis: s[2], itemStyle: { color: 'rgba(27,120,55,0.12)' } }, { xAxis: s[3] }]
      ]
    },
    markLine: {
      silent: true, symbol: 'none', label: { show: false }, animation: false,
      lineStyle: { type: [1.5, 2.5], color: '#000', width: 1 },
      data: [{ xAxis: s[0] }, { xAxis: s[1] }, { xAxis: s[2] }, { xAxis: s[3] }, { yAxis: 0 }, { yAxis: 1 }]
    }
  });
  series.push({
    type: 'scatter', name: 'GCC', xAxisIndex: xMain, yAxisIndex: yi, data: p.pts, z: 3,
    symbolSize: i === 3 ? 4.2 : 4, itemStyle: { color: C_GCC, opacity: i === 3 ? 0.5 : 1 }, silent: true
  });
  series.push({
    type: 'line', name: 'GCC fit', xAxisIndex: xMain, yAxisIndex: yi, data: p.fit, z: 4,
    showSymbol: false, connectNulls: false, lineStyle: { color: C_GCC, width: 2.2 }, silent: true
  });
  series.push({
    type: 'line', name: 'GPP', xAxisIndex: xMain, yAxisIndex: yi, data: p.gpp, z: 4,
    showSymbol: false, smooth: 0.2, lineStyle: { color: C_GPP, width: 2 }, silent: true
  });
  series.push({
    type: 'line', name: 'Growth', xAxisIndex: xMain, yAxisIndex: yi, data: p.growth, z: 4,
    showSymbol: false, lineStyle: { color: C_GROWTH, width: 2 }, silent: true
  });

  graphics.push({ type: 'text', x: 10, y: top + 13, z: 100, style: { text: PANEL_LETTERS[i], font: 'bold 20px ' + FONT, fill: '#000', verticalAlign: 'middle' } });
  graphics.push({ type: 'text', x: 73, y: top + 21, z: 100, style: { text: YEARS[i], font: '26px ' + FONT, fill: '#000', verticalAlign: 'middle' } });
  graphics.push({ type: 'text', x: 73, y: top + 124, z: 100, style: { text: 'Offset: ' + OFFSETS[i], font: '21px ' + FONT, fill: '#000', verticalAlign: 'middle' } });
  graphics.push({ type: 'text', x: 73, y: top + h - 11, z: 100, style: { text: SITES[i], font: '21px ' + FONT, fill: '#000', verticalAlign: 'middle' } });
  graphics.push({ type: 'text', x: 21, y: top + h / 2, rotation: Math.PI / 2, z: 100, style: { text: 'Fraction', font: '22px ' + FONT, fill: '#000', align: 'center', verticalAlign: 'middle' } });
});

// legend inside panel A
[['GCC', C_GCC, 58], ['GPP', C_GPP, 75.5], ['Growth', C_GROWTH, 92.5]].forEach(([name, col, y]) => {
  graphics.push({ type: 'line', z: 100, shape: { x1: 73, y1: y, x2: 100, y2: y }, style: { stroke: col, lineWidth: 2.6 } });
  if (name === 'GCC') graphics.push({ type: 'circle', z: 100, shape: { cx: 86.5, cy: y, r: 5.5 }, style: { fill: col } });
  graphics.push({ type: 'text', x: 112, y: y, z: 100, style: { text: name, font: '17px ' + FONT, fill: '#000', verticalAlign: 'middle' } });
});

// ---------- panels E and F ----------
function densityPolygon(xi, yi, pts, horizontal, fill) {
  return {
    type: 'custom', xAxisIndex: xi, yAxisIndex: yi, data: [[0, 0]], silent: true, z: 2,
    renderItem: (params, api) => {
      const c = pts.map(([lvl, d]) => horizontal ? api.coord([d, lvl]) : api.coord([lvl, d]));
      const first = pts[0][0], last = pts[pts.length - 1][0];
      const b0 = horizontal ? api.coord([0, first]) : api.coord([first, 0]);
      const b1 = horizontal ? api.coord([0, last]) : api.coord([last, 0]);
      return { type: 'polygon', shape: { points: [b0].concat(c, [b1]) }, style: { fill: fill, stroke: '#1a1a1a', lineWidth: 0.6 } };
    }
  };
}

const dashed = { type: [3, 3], color: '#444', width: 1 };
const lightGrid = { show: true, lineStyle: { color: '#e6e6e6', width: 1 } };

function climatePanel(cfg) {
  const { top, height, xmin, xmax, ymin, ymax, vpdTicks, vpdGrid, gppPts, growthPts, gmax,
    vpdGrowth, vpdGpp, tempGrowth, tempGpp, medVpd, medTemp, margTop, margH, margMin, margTicks } = cfg;
  const MAIN_L = 655, MAIN_W = 381, SIDE_L = 597, SIDE_W = 46;

  // left marginal (VPD densities)
  let gi = grids.length;
  grids.push({ left: SIDE_L, top: top, width: SIDE_W, height: height, containLabel: false });
  let xi = xAxes.length;
  xAxes.push({ gridIndex: gi, type: 'value', min: 0, max: 1.03, inverse: true,
    axisLine: { show: true, onZero: false, lineStyle: { color: '#333' } },
    axisTick: { show: true, customValues: [0.1, 0.3, 0.5, 0.7, 0.9], length: 3, lineStyle: { color: '#333' } },
    axisLabel: { show: false }, splitLine: { show: false } });
  let yi = yAxes.length;
  yAxes.push({ gridIndex: gi, type: 'value', min: ymin, max: ymax,
    axisLine: { show: true, onZero: false, lineStyle: { color: '#333' } },
    axisTick: { show: false, customValues: vpdGrid },
    axisLabel: { customValues: vpdTicks, color: TICK_GRAY, fontSize: 18, fontFamily: FONT, margin: 5 },
    splitLine: lightGrid });
  series.push(densityPolygon(xi, yi, vpdGpp, true, 'rgba(27,120,55,0.6)'));
  series.push(densityPolygon(xi, yi, vpdGrowth, true, 'rgba(118,42,131,0.5)'));
  series.push({ type: 'line', xAxisIndex: xi, yAxisIndex: yi, data: [], z: 5, silent: true,
    markLine: { silent: true, symbol: 'none', label: { show: false }, animation: false,
      data: [
        { yAxis: 0, lineStyle: dashed }, { xAxis: 0, lineStyle: dashed },
        { yAxis: medVpd[0], lineStyle: { color: C_GROWTH, width: 1.6, type: 'solid' } },
        { yAxis: medVpd[1], lineStyle: { color: '#1b7837', width: 1.6, type: 'solid' } }
      ] } });

  // main scatter
  gi = grids.length;
  grids.push({ left: MAIN_L, top: top, width: MAIN_W, height: height, show: true, backgroundColor: '#fff', borderColor: '#333', borderWidth: 1, containLabel: false });
  xi = xAxes.length;
  xAxes.push({ gridIndex: gi, type: 'value', min: xmin, max: xmax,
    axisLine: { show: false, onZero: false }, axisTick: { show: false, customValues: [0, 5, 10, 15, 20, 25, 30, 35] },
    axisLabel: { show: false }, splitLine: lightGrid });
  yi = yAxes.length;
  yAxes.push({ gridIndex: gi, type: 'value', min: ymin, max: ymax,
    axisLine: { show: false, onZero: false }, axisTick: { show: false, customValues: vpdGrid },
    axisLabel: { show: false }, splitLine: lightGrid });
  series.push({ type: 'line', xAxisIndex: xi, yAxisIndex: yi, data: [], z: 1, silent: true,
    markLine: { silent: true, symbol: 'none', label: { show: false }, animation: false, lineStyle: dashed,
      data: [{ xAxis: 0 }, { yAxis: 0 }] } });
  series.push({ type: 'scatter', name: 'GPP', xAxisIndex: xi, yAxisIndex: yi, data: gppPts, z: 3, silent: true,
    symbolSize: v => sizeFor(v[2], gmax),
    itemStyle: { color: p => greenFor(p.value[2], gmax), opacity: 0.78 } });
  series.push({ type: 'scatter', name: 'Growth', xAxisIndex: xi, yAxisIndex: yi, data: growthPts, z: 4, silent: true,
    symbolSize: 5, itemStyle: { color: C_PINK, borderColor: '#000', borderWidth: 0.8 } });

  // bottom marginal (temperature densities)
  gi = grids.length;
  grids.push({ left: MAIN_L, top: margTop, width: MAIN_W, height: margH, containLabel: false });
  xi = xAxes.length;
  xAxes.push({ gridIndex: gi, type: 'value', min: xmin, max: xmax,
    axisLine: { show: true, onZero: false, lineStyle: { color: '#333' } },
    axisTick: { show: false, customValues: [0, 5, 10, 15, 20, 25, 30, 35] },
    axisLabel: { customValues: [0, 10, 20, 30], color: TICK_GRAY, fontSize: 18, fontFamily: FONT, margin: 1 },
    splitLine: lightGrid });
  yi = yAxes.length;
  yAxes.push({ gridIndex: gi, type: 'value', min: margMin, max: 1,
    axisLine: { show: true, onZero: false, lineStyle: { color: '#333' } },
    axisTick: { show: true, customValues: margTicks, length: 3, lineStyle: { color: '#333' } },
    axisLabel: { show: false }, splitLine: lightGrid });
  series.push(densityPolygon(xi, yi, tempGpp, false, 'rgba(27,120,55,0.6)'));
  series.push(densityPolygon(xi, yi, tempGrowth, false, 'rgba(118,42,131,0.5)'));
  series.push({ type: 'line', xAxisIndex: xi, yAxisIndex: yi, data: [], z: 5, silent: true,
    markLine: { silent: true, symbol: 'none', label: { show: false }, animation: false,
      data: [
        { yAxis: 0, lineStyle: dashed }, { xAxis: 0, lineStyle: dashed },
        { xAxis: medTemp[0], lineStyle: { color: C_GROWTH, width: 1.6, type: 'solid' } },
        { xAxis: medTemp[1], lineStyle: { color: '#1b7837', width: 1.6, type: 'solid' } }
      ] } });
}

climatePanel({
  top: 13, height: 293, xmin: -1.7, xmax: 36, ymin: -0.24, ymax: 3.285,
  vpdTicks: [0, 1, 2, 3], vpdGrid: [0, 0.5, 1, 1.5, 2, 2.5, 3],
  gppPts: GPP_POINTS_E, growthPts: GROWTH_POINTS_E, gmax: 60,
  vpdGrowth: E_VPD_DENS_GROWTH, vpdGpp: E_VPD_DENS_GPP, tempGrowth: E_TEMP_DENS_GROWTH, tempGpp: E_TEMP_DENS_GPP,
  medVpd: E_MEDIAN_VPD, medTemp: E_MEDIAN_TEMP, margTop: 315, margH: 23, margMin: -0.12, margTicks: [0, 0.5, 1]
});
climatePanel({
  top: 390, height: 292, xmin: -1.9, xmax: 38, ymin: -0.19, ymax: 4.2,
  vpdTicks: [0, 1, 2, 3, 4], vpdGrid: [0, 0.5, 1, 1.5, 2, 2.5, 3, 3.5, 4],
  gppPts: GPP_POINTS_F, growthPts: GROWTH_POINTS_F, gmax: 20,
  vpdGrowth: F_VPD_DENS_GROWTH, vpdGpp: F_VPD_DENS_GPP, tempGrowth: F_TEMP_DENS_GROWTH, tempGpp: F_TEMP_DENS_GPP,
  medVpd: F_MEDIAN_VPD, medTemp: F_MEDIAN_TEMP, margTop: 692, margH: 22, margMin: -0.05, margTicks: [0, 0.5, 1]
});

// text and legends for E / F
function climateDecor(letter, top, legendVals, gmax, legendYs, growthY, boxH, unitY, site, siteX, siteY, titleY, vpdY) {
  graphics.push({ type: 'text', x: 556, y: top + 12, z: 100, style: { text: letter, font: 'bold 20px ' + FONT, fill: '#000', verticalAlign: 'middle' } });
  graphics.push({ type: 'rect', z: 10, shape: { x: 683, y: top + 1, width: 56, height: boxH }, style: { fill: '#fff' } });
  graphics.push({ type: 'text', x: 686, y: legendYs[0] - 23, z: 100, style: { text: 'GPP', font: '22px ' + FONT, fill: '#000', verticalAlign: 'middle' } });
  legendVals.forEach((g, k) => {
    graphics.push({ type: 'circle', z: 100, shape: { cx: 691.7, cy: legendYs[k], r: sizeFor(g, gmax) / 2 }, style: { fill: greenFor(g, gmax), opacity: 0.85 } });
    graphics.push({ type: 'text', x: 701, y: legendYs[k], z: 100, style: { text: String(g), font: '17px ' + FONT, fill: '#000', verticalAlign: 'middle' } });
  });
  graphics.push({ type: 'circle', z: 100, shape: { cx: 691.7, cy: growthY, r: 5 }, style: { fill: C_PINK, stroke: '#000', lineWidth: 1.5 } });
  graphics.push({ type: 'text', x: 702, y: growthY, z: 100, style: { text: 'Growth', font: '18px ' + FONT, fill: '#000', verticalAlign: 'middle' } });
  graphics.push({ type: 'text', x: 757, y: unitY, rotation: Math.PI / 2, z: 100, style: { text: '(μmol m⁻²s⁻¹)', font: '18px ' + FONT, fill: '#000', align: 'center', verticalAlign: 'middle' } });
  graphics.push({ type: 'text', x: siteX, y: siteY, z: 100, style: { text: site, font: '27px ' + FONT, fill: '#000', verticalAlign: 'middle' } });
  graphics.push({ type: 'text', x: 836.7, y: titleY, z: 100, style: { text: 'Air temperature (°C)', font: '22px ' + FONT, fill: '#000', align: 'center', verticalAlign: 'middle' } });
  graphics.push({ type: 'text', x: 569, y: vpdY, rotation: Math.PI / 2, z: 100, style: { text: 'VPD (kPa)', font: '22px ' + FONT, fill: '#000', align: 'center', verticalAlign: 'middle' } });
}
climateDecor('E', 13, E_GPP_LEGEND, 60, [52.7, 71, 89.3, 108.3, 126.7, 145, 163.3, 181.7, 200], 224, 222, 99, 'PACE-VA', 907, 273, 370, 160);
climateDecor('F', 390, F_GPP_LEGEND, 20, [445, 462.7, 481.7, 500, 518.3, 536.7], 596.7, 222, 477, 'TONZI-CA', 893, 659, 746.5, 533);

chart.setOption({
  animation: false,
  backgroundColor: '#fff',
  textStyle: { fontFamily: FONT },
  grid: grids,
  xAxis: xAxes,
  yAxis: yAxes,
  series: series,
  graphic: { elements: graphics }
});
</script>
</body>
</html>
